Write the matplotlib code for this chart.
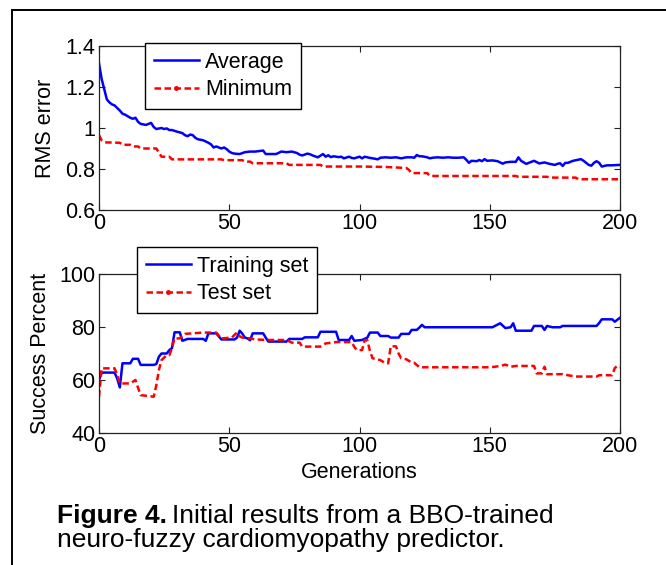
import matplotlib
matplotlib.use("Agg")
import matplotlib.pyplot as plt
from matplotlib.lines import Line2D

plt.rcParams['font.family'] = ['Liberation Sans', 'DejaVu Sans']

# ---------------- data ----------------
avg_gen = [0, 1, 2, 3, 4, 5, 6, 8, 9, 10, 12, 13, 14, 15, 16, 18, 19, 20, 21, 22, 24, 25, 26, 27, 28, 30,
           32, 33, 34, 35, 36, 37, 38, 40, 42, 43, 44, 45, 46, 47, 48, 49, 50, 51, 52, 54, 56, 58, 60,
           62, 63, 64, 66, 68, 70, 72, 74, 76, 77, 78, 80, 81, 82, 84, 85, 86, 87, 88, 89, 90, 92, 93,
           94, 96, 97, 98, 100, 101, 102, 104, 106, 107, 108, 110, 112, 114, 116, 118, 120, 121, 122,
           123, 124, 126, 127, 128, 130, 132, 134, 136, 138, 140, 141, 142, 143, 145, 146, 147, 148,
           149, 151, 153, 155, 156, 158, 160, 161, 162, 164, 166, 167, 169, 171, 173, 175, 176, 177,
           178, 179, 180, 182, 184, 185, 186, 187, 188, 189, 190, 191, 192, 193, 195, 197, 200]
avg_rms = [1.315, 1.24, 1.19, 1.14, 1.125, 1.115, 1.11, 1.085, 1.07, 1.065, 1.05, 1.045, 1.05, 1.03,
           1.02, 1.015, 1.02, 1.025, 1.005, 0.995, 1.0, 0.995, 0.998, 0.99, 0.99, 0.982,
           0.975, 0.965, 0.96, 0.968, 0.965, 0.952, 0.945, 0.94, 0.928, 0.92, 0.905, 0.91, 0.905,
           0.9, 0.905, 0.897, 0.885, 0.878, 0.875, 0.873, 0.882, 0.885, 0.885,
           0.888, 0.89, 0.873, 0.873, 0.873, 0.885, 0.882, 0.885, 0.878, 0.87, 0.866, 0.875, 0.872,
           0.866, 0.857, 0.865, 0.873, 0.86, 0.867, 0.858, 0.862, 0.858, 0.86,
           0.852, 0.86, 0.854, 0.852, 0.86, 0.852, 0.86, 0.854, 0.85, 0.847, 0.855, 0.857, 0.855,
           0.857, 0.852, 0.857, 0.857, 0.855, 0.868,
           0.862, 0.862, 0.857, 0.852, 0.855, 0.857, 0.855, 0.857, 0.855, 0.855, 0.857, 0.845,
           0.83, 0.84, 0.838, 0.844, 0.838, 0.848,
           0.84, 0.842, 0.838, 0.826, 0.832, 0.835, 0.835, 0.857, 0.84, 0.825, 0.835, 0.84, 0.827,
           0.832, 0.825, 0.82, 0.825, 0.828,
           0.815, 0.83, 0.83, 0.84, 0.845, 0.848, 0.84, 0.83, 0.82, 0.816, 0.83, 0.838, 0.83, 0.812,
           0.818, 0.818, 0.82]

min_gen = [0, 1, 2, 8, 9, 12, 13, 15, 16, 22, 23, 24, 27, 28, 47, 48, 55, 56, 58, 59, 72, 73, 85, 86,
           100, 110, 113, 118, 119, 120, 126, 127, 160, 161, 172, 173, 183, 184, 200]
min_rms = [0.965, 0.94, 0.93, 0.928, 0.918, 0.918, 0.91, 0.91, 0.9, 0.9, 0.88, 0.86, 0.86, 0.847,
           0.847, 0.843, 0.843, 0.836, 0.836, 0.828, 0.828, 0.82, 0.82, 0.812,
           0.812, 0.81, 0.808, 0.805, 0.795, 0.78, 0.78, 0.766, 0.766, 0.762, 0.762, 0.758, 0.758,
           0.75, 0.75]

train_gen = [0, 1, 6, 7, 8, 9, 12, 13, 15, 16, 21, 22, 23, 24, 26, 27, 28, 29, 31, 32, 34, 40, 41,
             42, 45, 47, 52, 53, 54, 55, 56, 57, 58, 59, 63, 64, 65, 72, 73, 78, 79, 84, 85, 91, 92,
             96, 97, 98, 101, 103, 104, 107, 108, 111, 112, 115, 116, 119, 120, 122, 123, 124, 125,
             151, 152, 154, 156, 158, 159, 160, 166, 167, 170, 171, 172, 174, 177, 178, 191, 192,
             193, 197, 198, 200]
train_pct = [60, 62.8, 62.8, 60.5, 57.2, 66.3, 66.3, 68, 68, 65.7, 65.7, 66, 68.8, 70, 70, 71.3,
             72, 78, 78, 74.8, 75.5, 75.5, 74.8,
             77.6, 77.6, 75.3, 75.3, 76, 78.6, 77.5, 76, 75.7, 75, 77.6, 77.6, 76, 74.5, 74.5,
             75.5, 75.5, 76.1, 76.1, 78.2, 78.2, 75.1,
             75.1, 76.6, 74.8, 75.1, 76, 77.9, 77.9, 76.6, 76.6, 76, 76, 77.4, 77.4, 78.9, 78.9,
             79.8, 80.8, 79.9,
             79.9, 80.4, 81.4, 79.6, 79.9, 81.4, 78.6, 78.6, 80.4, 80.4, 78.9, 80.4, 79.9, 79.9,
             80.4, 80.4, 81.5,
             82.9, 82.9, 82, 83.5]

test_gen = [0, 1, 6, 7, 8, 12, 14, 15, 16, 21, 22, 23, 24, 26, 27, 28, 29, 31, 33, 40, 45, 47, 51,
            52, 53, 54, 55, 58, 60, 65, 72, 74, 77, 78, 85, 87, 91, 97, 98, 99, 101, 102, 103, 104,
            105, 108, 110, 111, 112, 114, 115, 116, 118, 120, 121, 123, 150, 152, 154, 156, 158,
            160, 167, 168, 170, 171, 172, 178, 180, 183, 191, 192, 197, 198, 199, 200]
test_pct = [53.7, 64.4, 64.4, 61.9, 58.7, 58.7, 60, 57, 54.3, 53.7, 58, 63.8, 67.5, 69.4, 69.4, 72,
            75.7, 75.7, 77.4, 77.9, 77.9, 75.7, 76,
            77, 77.9, 76.5, 76, 75.7, 75.3, 75.1, 75.1, 74.1, 74.1, 72.6, 72.6, 73.8, 74.3, 74.3,
            72.5, 71.3, 71.3, 75.1, 75, 71,
            68.2, 67.5, 66.3, 66.3, 72.7, 72.7, 70, 68.2, 67.8, 66.6, 66.5, 64.8, 64.8, 65, 65.3,
            65.8, 65,
            65.3, 65.3, 62.5, 62.5, 65, 62.2, 62.2, 61.8, 61.3, 61.3, 61.8, 61.8, 64.5, 65.3, 64.8]

x_ticks = [0, 50, 100, 150, 200]
rms_ticks = [0.6, 0.8, 1.0, 1.2, 1.4]
rms_ticklabels = ['0.6', '0.8', '1', '1.2', '1.4']
pct_ticks = [40, 60, 80, 100]

# ---------------- figure ----------------
W, H = 666, 565
fig = plt.figure(figsize=(W / 100, H / 100), dpi=100)


def fx(px):
    return px / W


def fy(py):
    return 1 - py / H


ax1 = fig.add_axes([fx(99), fy(210), fx(620) - fx(99), fy(46) - fy(210)])
ax2 = fig.add_axes([fx(99), fy(433), fx(620) - fx(99), fy(274) - fy(433)])

LW = 1.8
DASH = (2.6, 1.4)
FS = 15.5

l_avg, = ax1.plot(avg_gen, avg_rms, color=(0, 0, 1), lw=LW)
l_min, = ax1.plot(min_gen, min_rms, color=(1, 0, 0), lw=LW, ls='--', dashes=DASH)
l_tr, = ax2.plot(train_gen, train_pct, color=(0, 0, 1), lw=LW)
l_te, = ax2.plot(test_gen, test_pct, color=(1, 0, 0), lw=LW, ls='--', dashes=DASH)

ax1.set_xlim(0, 200)
ax1.set_ylim(0.6, 1.4)
ax1.set_xticks(x_ticks)
ax1.set_yticks(rms_ticks)
ax1.set_yticklabels(rms_ticklabels)
ax1.set_ylabel('RMS error', fontsize=FS, labelpad=7)

ax2.set_xlim(0, 200)
ax2.set_ylim(40, 100)
ax2.set_xticks(x_ticks)
ax2.set_yticks(pct_ticks)
ax2.set_ylabel('Success Percent', fontsize=FS, labelpad=6)
ax2.set_xlabel('Generations', fontsize=FS, labelpad=3)

for ax in (ax1, ax2):
    ax.tick_params(direction='in', top=True, right=True, length=4.3, width=0.8,
                   labelsize=FS, pad=2.5, color='#222222')
    for s in ax.spines.values():
        s.set_linewidth(0.9)
        s.set_color('#222222')

red_proxy = Line2D([], [], color=(1, 0, 0), lw=LW, ls='--', dashes=DASH, marker='.', markersize=5)

leg_kw = dict(loc='upper left', bbox_transform=fig.transFigure, frameon=True, fancybox=False,
              framealpha=1, edgecolor='black', fontsize=FS, handlelength=2.1, handletextpad=0.3,
              borderpad=0.4, labelspacing=0.3, borderaxespad=0, numpoints=1)
leg1 = ax1.legend([l_avg, red_proxy], ['Average', 'Minimum'],
                  bbox_to_anchor=(fx(145), fy(43)), **leg_kw)
leg1.get_frame().set_linewidth(1.0)
leg2 = ax2.legend([l_tr, red_proxy], ['Training set', 'Test set'],
                  bbox_to_anchor=(fx(137), fy(247)), **leg_kw)
leg2.get_frame().set_linewidth(1.0)

# caption
CFS = 19
t_bold = fig.text(fx(57), fy(523), 'Figure 4.', fontsize=CFS, fontweight='bold', va='baseline', ha='left')
fig.canvas.draw()
bb = t_bold.get_window_extent(renderer=fig.canvas.get_renderer())
fig.text(bb.x1 / W + fx(5), fy(523), 'Initial results from a BBO-trained', fontsize=CFS,
         va='baseline', ha='left')
fig.text(fx(57), fy(547), 'neuro-fuzzy cardiomyopathy predictor.', fontsize=CFS,
         va='baseline', ha='left')

# border frame (left and top edges)
fig.add_artist(Line2D([fx(12), fx(12)], [0, fy(10)], transform=fig.transFigure, color='black', lw=1.4))
fig.add_artist(Line2D([fx(12), 1], [fy(10), fy(10)], transform=fig.transFigure, color='black', lw=1.4))

fig.savefig('out.png', dpi=100)
